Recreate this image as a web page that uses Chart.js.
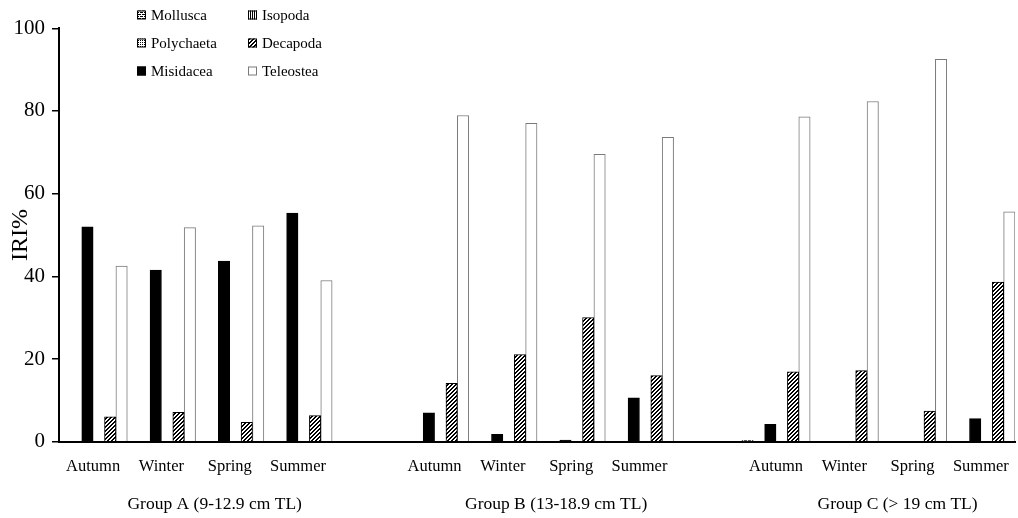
<!DOCTYPE html>
<html>
<head>
<meta charset="utf-8">
<script src="https://cdn.jsdelivr.net/npm/chart.js@4.4.1/dist/chart.umd.min.js"></script>
<style>
  html, body { margin: 0; padding: 0; background: #fff; overflow: hidden; width: 1018px; height: 518px; }
  #wrap { width: 1024px; height: 518px; }
</style>
</head>
<body>
<div id="wrap"><canvas id="c" width="1024" height="518"></canvas></div>
<script>
// Seasons within each size group, and the size-group captions
const seasons = ['Autumn', 'Winter', 'Spring', 'Summer'];
const groupLabels = ['Group A (9-12.9 cm TL)', 'Group B (13-18.9 cm TL)', 'Group C (> 19 cm TL)'];
const yTicks = [0, 20, 40, 60, 80, 100];

// IRI% by prey: Group A (Au, Wi, Sp, Su), Group B (Au, Wi, Sp, Su), Group C (Au, Wi, Sp, Su)
const mollusca   = [null, null, null, null,  null, null, null, null,  0.3, null, null, null];
const polychaeta = [null, null, null, null,  null, null, null, null,  null, null, null, null];
const misidacea  = [52.0, 41.5, 43.7, 55.3,  7.0, 1.8, 0.4, 10.6,  4.2, null, null, 5.6];
const isopoda    = [null, null, null, null,  null, null, null, null,  null, null, null, null];
const decapoda   = [6.0, 7.1, 4.7, 6.3,  14.1, 21.1, 30.0, 16.0,  16.9, 17.2, 7.4, 38.6];
const teleostea  = [42.5, 51.8, 52.2, 39.0,  78.9, 77.0, 69.5, 73.6,  78.6, 82.3, 92.5, 55.6];

// one empty category between size groups
function withGaps(arr, filler) {
  const out = [];
  arr.forEach((v, i) => {
    out.push(v);
    if (i === 3 || i === 7) out.push(filler);
  });
  return out;
}

const labels = withGaps([].concat(seasons, seasons, seasons), '');

// monochrome fill patterns
function makePattern(size, drawFn) {
  const cv = document.createElement('canvas');
  cv.width = size; cv.height = size;
  const g = cv.getContext('2d');
  g.fillStyle = '#fff';
  g.fillRect(0, 0, size, size);
  g.fillStyle = '#000';
  drawFn(g, size);
  return g.createPattern(cv, 'repeat');
}
const ctx = document.getElementById('c').getContext('2d');

const hatchDiag = makePattern(4, (g, n) => {
  for (let i = 0; i < n; i++) {
    g.fillRect(i, n - 1 - i, 1, 1);
    g.fillRect(i, (n - i) % n, 1, 1);
  }
});
const hatchBrick = makePattern(4, (g) => {
  g.fillRect(0, 0, 3, 1);
  g.fillRect(2, 2, 3, 1);
  g.fillRect(0, 2, 1, 1);
});
const hatchDots = makePattern(2, (g) => {
  g.fillRect(0, 0, 1, 1);
});
const hatchVert = makePattern(2, (g, n) => {
  g.fillRect(0, 0, 1, n);
});

const series = [
  { label: 'Mollusca',   data: mollusca,   fill: hatchBrick, border: '#000' },
  { label: 'Polychaeta', data: polychaeta, fill: hatchDots,  border: '#000' },
  { label: 'Misidacea',  data: misidacea,  fill: '#000',     border: '#000' },
  { label: 'Isopoda',    data: isopoda,    fill: hatchVert,  border: '#000' },
  { label: 'Decapoda',   data: decapoda,   fill: hatchDiag,  border: '#000' },
  { label: 'Teleostea',  data: teleostea,  fill: '#fff',     border: '#7a7a7a' }
];

const serif = "'Liberation Serif', 'DejaVu Serif', serif";

// legend in two columns, filled top-to-bottom
const legendPlugin = {
  id: 'twoColumnLegend',
  afterDraw(chart) {
    const c = chart.ctx;
    const colX = [137, 248];
    const rowY = [15, 43, 71];
    const box = 9;
    c.save();
    c.font = '15px ' + serif;
    c.textBaseline = 'middle';
    c.textAlign = 'left';
    chart.data.datasets.forEach((ds, i) => {
      const x = colX[Math.floor(i / 3)];
      const y = rowY[i % 3];
      c.fillStyle = ds.backgroundColor;
      c.fillRect(x, y - box / 2, box, box);
      c.strokeStyle = ds.borderColor;
      c.lineWidth = 1;
      c.strokeRect(x + 0.5, y - box / 2 + 0.5, box - 1, box - 1);
      c.fillStyle = '#000';
      c.fillText(ds.label, x + 14, y + 1);
    });
    c.restore();
  }
};

// size-group captions under the season labels
const groupCaptionPlugin = {
  id: 'groupCaptions',
  afterDraw(chart) {
    const xs = chart.scales.x;
    const c = chart.ctx;
    c.save();
    c.font = '17.5px ' + serif;
    c.fillStyle = '#000';
    c.textAlign = 'center';
    c.textBaseline = 'middle';
    groupLabels.forEach((t, g) => {
      c.fillText(t, xs.getPixelForValue(g * 5 + 1.78), 504);
    });
    c.restore();
  }
};

new Chart(ctx, {
  type: 'bar',
  data: {
    labels: labels,
    datasets: series.map(s => ({
      label: s.label,
      data: withGaps(s.data, null),
      backgroundColor: s.fill,
      borderColor: s.border,
      borderWidth: { top: 1, left: 1, right: 1, bottom: 0 },
      borderSkipped: 'start',
      barPercentage: 1,
      categoryPercentage: 1
    }))
  },
  options: {
    responsive: false,
    animation: false,
    events: [],
    layout: { padding: { left: 0, right: 4.5, top: 28.3, bottom: 0 } },
    plugins: {
      legend: { display: false },
      tooltip: { enabled: false }
    },
    scales: {
      x: {
        offset: true,
        grid: { display: false, drawTicks: false },
        border: { display: true, color: '#000', width: 2 },
        ticks: {
          autoSkip: false,
          maxRotation: 0,
          padding: 15,
          color: '#000',
          font: { family: serif, size: 16.5 }
        },
        afterFit(scale) { scale.height = 76.3; }
      },
      y: {
        min: 0,
        max: 100,
        afterBuildTicks(scale) { scale.ticks = yTicks.map(v => ({ value: v })); },
        grid: { drawOnChartArea: false, drawTicks: true, tickLength: 7, color: '#000', lineWidth: 1.5 },
        border: { display: true, color: '#000', width: 2 },
        ticks: {
          padding: 7,
          color: '#000',
          font: { family: serif, size: 21 }
        },
        title: {
          display: true,
          text: 'IRI%',
          color: '#000',
          font: { family: serif, size: 24 },
          padding: { top: 6, bottom: 0 }
        },
        afterFit(scale) { scale.width = 59; }
      }
    }
  },
  plugins: [legendPlugin, groupCaptionPlugin]
});
</script>
</body>
</html>
